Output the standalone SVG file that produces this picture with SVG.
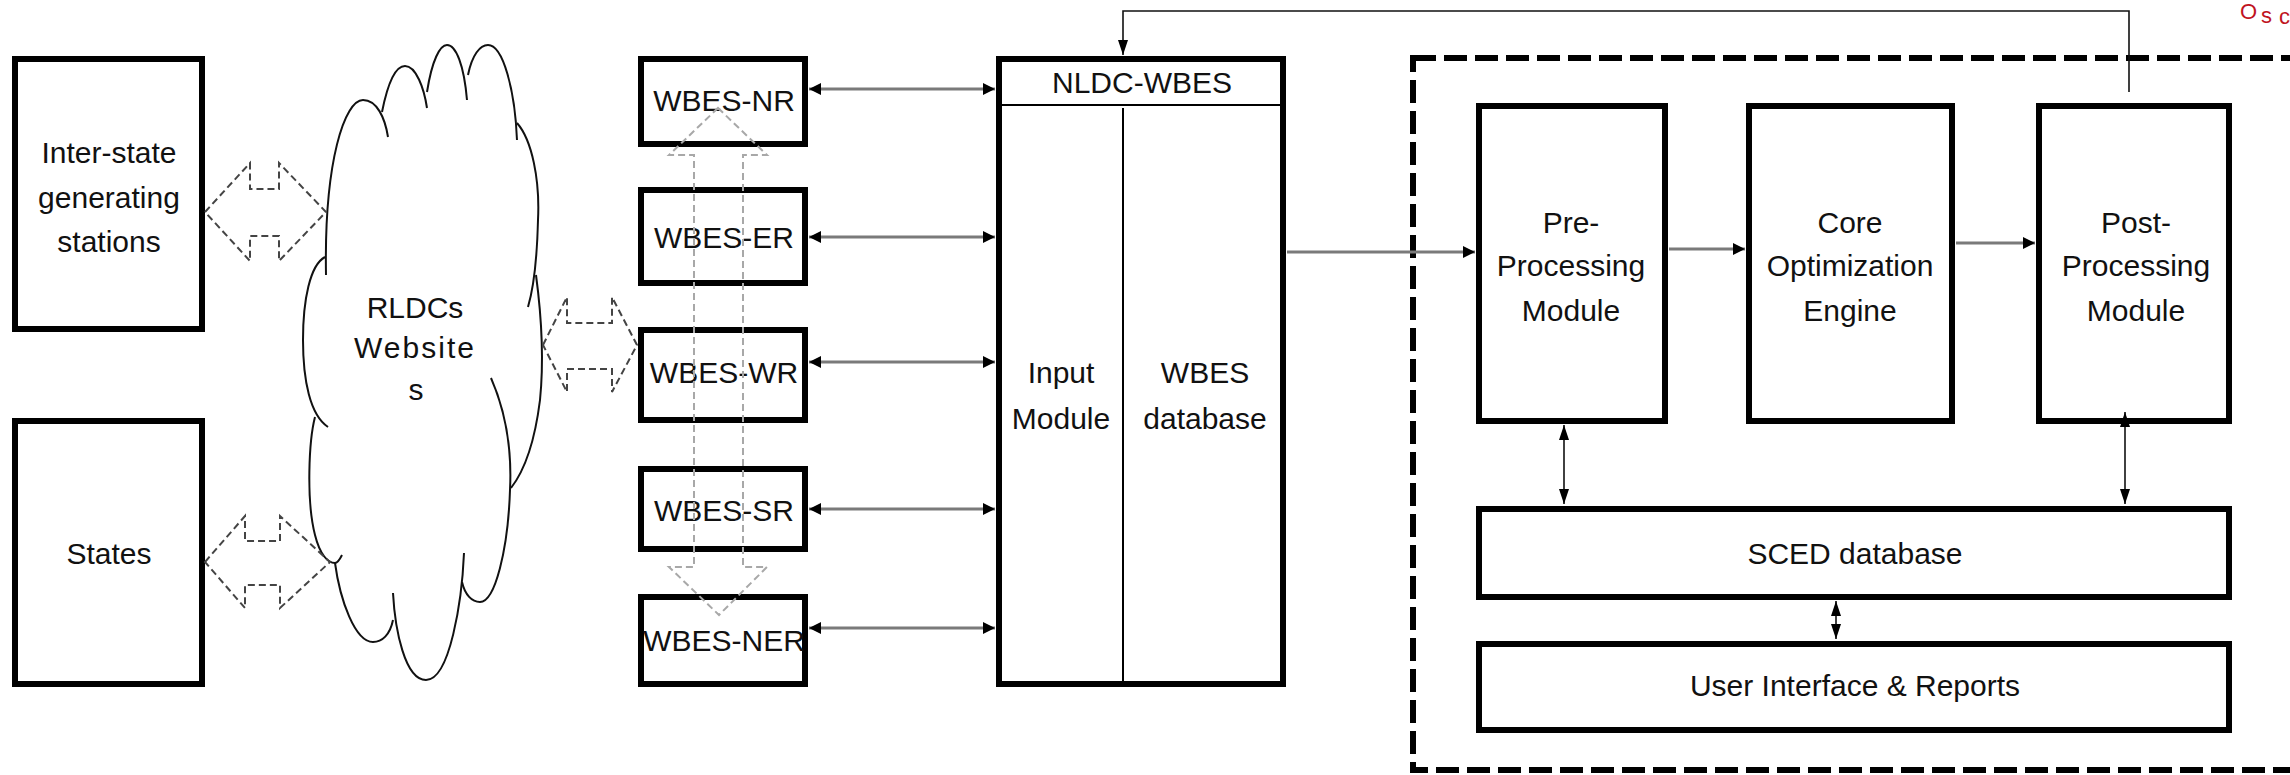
<svg xmlns="http://www.w3.org/2000/svg" width="2290" height="775" viewBox="0 0 2290 775">
<defs>
<style>
.box{fill:#fff;stroke:#000;stroke-width:6}
.thin{fill:none;stroke:#000;stroke-width:2}
.t{font-family:"Liberation Sans",Arial,sans-serif;font-size:30px;fill:#111;text-anchor:middle}
.cloud{fill:none;stroke:#111;stroke-width:2}
.gconn{fill:none;stroke:#7a7a7a;stroke-width:3}
.bconn{fill:none;stroke:#111;stroke-width:1.6}
.blk{fill:none;stroke:#444;stroke-width:2;stroke-dasharray:7 4}
.blkl{fill:none;stroke:#a8a8a8;stroke-width:2;stroke-dasharray:7 4}
</style>
<marker id="ah" markerUnits="userSpaceOnUse" markerWidth="13" markerHeight="13" refX="12" refY="6" orient="auto-start-reverse">
<path d="M0,0 L12,6 L0,12 z" fill="#000"/>
</marker>
<marker id="as" markerUnits="userSpaceOnUse" markerWidth="16" markerHeight="12" refX="15" refY="5" orient="auto-start-reverse">
<path d="M0,0 L15,5 L0,10 z" fill="#000"/>
</marker>
</defs>
<rect width="2290" height="775" fill="#fff"/>

<g id="container">
<rect x="1413" y="58" width="1000" height="712" fill="none" stroke="#000" stroke-width="6" stroke-dasharray="23 8"/>
</g>

<g id="cloud">
<path class="cloud" d="M326,275 C324,160 345,100 363,100 C377,100 385,118 388,137"/>
<path class="cloud" d="M382,112 C388,82 396,66 405,66 C416,66 424,88 427,108"/>
<path class="cloud" d="M427,92 C432,60 440,45 447,45 C456,45 464,65 467,100"/>
<path class="cloud" d="M468,75 C472,55 480,45 488,45 C503,45 515,90 517,140"/>
<path class="cloud" d="M517,123 C532,140 540,180 538,220 C537,260 533,290 528,307"/>
<path class="cloud" d="M536,275 C542,320 544,360 540,400 C535,440 525,470 511,488"/>
<path class="cloud" d="M491,378 C505,410 512,450 510,490 C508,550 495,602 480,602 C472,602 465,595 462,582"/>
<path class="cloud" d="M464,553 C462,600 450,680 426,680 C405,680 395,630 393,593"/>
<path class="cloud" d="M393,620 C390,635 382,642 373,642 C355,642 340,600 335,563"/>
<path class="cloud" d="M315,417 C309,440 306,500 315,535 C320,555 328,563 335,563 C338,563 340,559 342,555"/>
<path class="cloud" d="M325,257 C310,265 303,300 303,340 C303,380 310,415 328,427"/>
<text class="t" x="415" y="318">RLDCs</text>
<text class="t" x="415" y="358" letter-spacing="2">Website</text>
<text class="t" x="416" y="400">s</text>
</g>

<g id="inter-state">
<rect class="box" x="15" y="59" width="187" height="270"/>
<text class="t" x="109" y="163">Inter-state</text>
<text class="t" x="109" y="208">generating</text>
<text class="t" x="109" y="252">stations</text>
</g>

<g id="states">
<rect class="box" x="15" y="421" width="187" height="263"/>
<text class="t" x="109" y="564">States</text>
</g>

<g id="wbes-nr">
<rect class="box" x="641" y="59" width="164" height="85"/>
<text class="t" x="724" y="111">WBES-NR</text>
</g>
<g id="wbes-er">
<rect class="box" x="641" y="190" width="164" height="93"/>
<text class="t" x="724" y="248">WBES-ER</text>
</g>
<g id="wbes-wr">
<rect class="box" x="641" y="330" width="164" height="90"/>
<text class="t" x="724" y="383">WBES-WR</text>
</g>
<g id="wbes-sr">
<rect class="box" x="641" y="469" width="164" height="80"/>
<text class="t" x="724" y="521">WBES-SR</text>
</g>
<g id="wbes-ner">
<rect class="box" x="641" y="597" width="164" height="87"/>
<text class="t" x="724" y="651">WBES-NER</text>
</g>

<g id="nldc-wbes">
<rect class="box" x="999" y="59" width="284" height="625"/>
<line class="thin" x1="999" y1="105" x2="1283" y2="105"/>
<line class="thin" x1="1123" y1="108" x2="1123" y2="684"/>
<text class="t" x="1142" y="93">NLDC-WBES</text>
<text class="t" x="1061" y="383">Input</text>
<text class="t" x="1061" y="429">Module</text>
<text class="t" x="1205" y="383">WBES</text>
<text class="t" x="1205" y="429">database</text>
</g>

<g id="pre-processing">
<rect class="box" x="1479" y="106" width="186" height="315" stroke-width="7"/>
<text class="t" x="1571" y="233">Pre-</text>
<text class="t" x="1571" y="276">Processing</text>
<text class="t" x="1571" y="321">Module</text>
</g>
<g id="core-optimization">
<rect class="box" x="1749" y="106" width="203" height="315" stroke-width="7"/>
<text class="t" x="1850" y="233">Core</text>
<text class="t" x="1850" y="276">Optimization</text>
<text class="t" x="1850" y="321">Engine</text>
</g>
<g id="post-processing">
<rect class="box" x="2039" y="106" width="190" height="315" stroke-width="7"/>
<text class="t" x="2136" y="233">Post-</text>
<text class="t" x="2136" y="276">Processing</text>
<text class="t" x="2136" y="321">Module</text>
</g>
<g id="sced-database">
<rect class="box" x="1479" y="509" width="750" height="88" stroke-width="7"/>
<text class="t" x="1855" y="564">SCED database</text>
</g>
<g id="user-interface">
<rect class="box" x="1479" y="644" width="750" height="86" stroke-width="7"/>
<text class="t" x="1855" y="696">User Interface &amp; Reports</text>
</g>

<g id="connectors">
<line class="gconn" x1="809" y1="89" x2="995" y2="89" marker-start="url(#ah)" marker-end="url(#ah)"/>
<line class="gconn" x1="809" y1="237" x2="995" y2="237" marker-start="url(#ah)" marker-end="url(#ah)"/>
<line class="gconn" x1="809" y1="362" x2="995" y2="362" marker-start="url(#ah)" marker-end="url(#ah)"/>
<line class="gconn" x1="809" y1="509" x2="995" y2="509" marker-start="url(#ah)" marker-end="url(#ah)"/>
<line class="gconn" x1="809" y1="628" x2="995" y2="628" marker-start="url(#ah)" marker-end="url(#ah)"/>
<line class="gconn" x1="1287" y1="252" x2="1475" y2="252" stroke-width="2.5" marker-end="url(#ah)"/>
<line class="gconn" x1="1669" y1="249" x2="1745" y2="249" stroke-width="2.5" marker-end="url(#ah)"/>
<line class="gconn" x1="1956" y1="243" x2="2035" y2="243" stroke-width="2.5" marker-end="url(#ah)"/>
<path class="bconn" d="M2129,92 V11 H1123 V55" marker-end="url(#as)"/>
<line class="bconn" x1="1564" y1="425" x2="1564" y2="504" marker-start="url(#as)" marker-end="url(#as)"/>
<line class="bconn" x1="2125" y1="412" x2="2125" y2="504" marker-start="url(#as)" marker-end="url(#as)"/>
<line class="bconn" x1="1836" y1="601" x2="1836" y2="639" marker-start="url(#as)" marker-end="url(#as)"/>
<polygon class="blk" points="205,212 250,163 250,189 279,189 279,163 326,212 279,261 279,236 250,236 250,261"/>
<polygon class="blk" points="205,562 245,516 245,541 280,541 280,516 330,562 280,608 280,585 245,585 245,608"/>
<polygon class="blk" points="543,345 567,297 567,323 612,323 612,297 637,345 612,392 612,369 567,369 567,392"/>
<polygon class="blkl" points="718,108 767,155 743,155 743,567 767,567 719,615 669,567 694,567 694,155 669,155"/>
</g>

<text font-family="'Liberation Sans',Arial,sans-serif" font-size="22" fill="#c0141e"><tspan x="2240" y="19">O</tspan><tspan x="2261" y="23">s</tspan><tspan x="2279" y="24">c</tspan></text>
</svg>
